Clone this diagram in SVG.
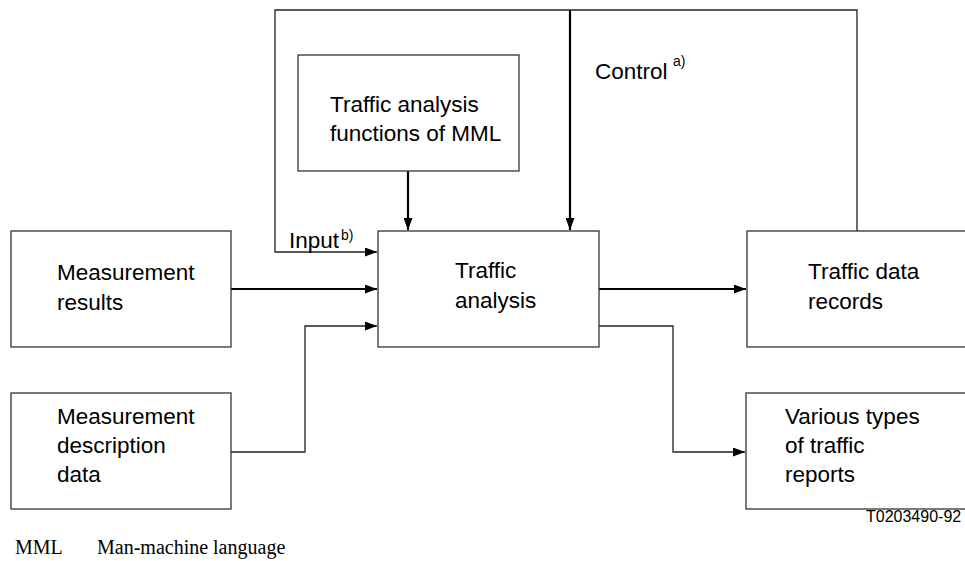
<svg xmlns="http://www.w3.org/2000/svg" width="965" height="561" viewBox="0 0 965 561">
<style>
.box{fill:#fff;stroke:#333;stroke-width:1.3}
.t{font-family:"Liberation Sans",Arial,sans-serif;font-size:22.5px;fill:#000}
.sup{font-family:"Liberation Sans",Arial,sans-serif;font-size:14px;fill:#000}
.thin{fill:none;stroke:#222;stroke-width:1.3}
.thick{fill:none;stroke:#000;stroke-width:2.2}
.foot{font-family:"Liberation Serif","Times New Roman",serif;font-size:20px;fill:#000}
</style>
<defs>
<marker id="ah" markerUnits="userSpaceOnUse" markerWidth="13" markerHeight="9" refX="12" refY="4.5" orient="auto">
<path d="M0,0 L12,4.5 L0,9 z" fill="#000"/>
</marker>
</defs>
<rect width="965" height="561" fill="#fff"/>
<g id="connectors">
<path class="thin" d="M857,231 V10 H275 V252 H377" marker-end="url(#ah)"/>
<path class="thick" d="M570,10 V230" marker-end="url(#ah)"/>
<path class="thick" d="M408,171 V230" marker-end="url(#ah)"/>
<path class="thick" d="M231,289 H377" marker-end="url(#ah)"/>
<path class="thin" d="M231,452 H305 V326 H377" marker-end="url(#ah)"/>
<path class="thick" d="M599,289 H746" marker-end="url(#ah)"/>
<path class="thin" d="M599,326 H673 V452 H745" marker-end="url(#ah)"/>
</g>
<g id="mml-functions">
<rect class="box" x="298" y="55" width="221" height="116"/>
<text class="t" x="330" y="112">Traffic analysis</text>
<text class="t" x="330" y="141">functions of MML</text>
</g>
<g id="traffic-analysis">
<rect class="box" x="378" y="231" width="221" height="116"/>
<text class="t" x="455" y="278">Traffic</text>
<text class="t" x="455" y="308">analysis</text>
</g>
<g id="measurement-results">
<rect class="box" x="11" y="231" width="220" height="116"/>
<text class="t" x="57" y="280">Measurement</text>
<text class="t" x="57" y="310">results</text>
</g>
<g id="measurement-description">
<rect class="box" x="11" y="393" width="220" height="116"/>
<text class="t" x="57" y="424">Measurement</text>
<text class="t" x="57" y="453">description</text>
<text class="t" x="57" y="482">data</text>
</g>
<g id="traffic-data-records">
<rect class="box" x="747" y="231" width="225" height="116"/>
<text class="t" x="808" y="279">Traffic data</text>
<text class="t" x="808" y="309">records</text>
</g>
<g id="traffic-reports">
<rect class="box" x="746" y="393" width="226" height="116"/>
<text class="t" x="785" y="424">Various types</text>
<text class="t" x="785" y="453">of traffic</text>
<text class="t" x="785" y="482">reports</text>
</g>
<g id="labels">
<text class="t" x="595" y="79">Control</text>
<text class="sup" x="673" y="66">a)</text>
<text class="t" x="289" y="248">Input</text>
<text class="sup" x="341" y="240">b)</text>
<text class="foot" x="15" y="554">MML</text>
<text class="foot" x="97" y="554">Man-machine language</text>
<text class="sup" x="866" y="522" style="font-size:16px">T0203490-92</text>
</g>
</svg>
